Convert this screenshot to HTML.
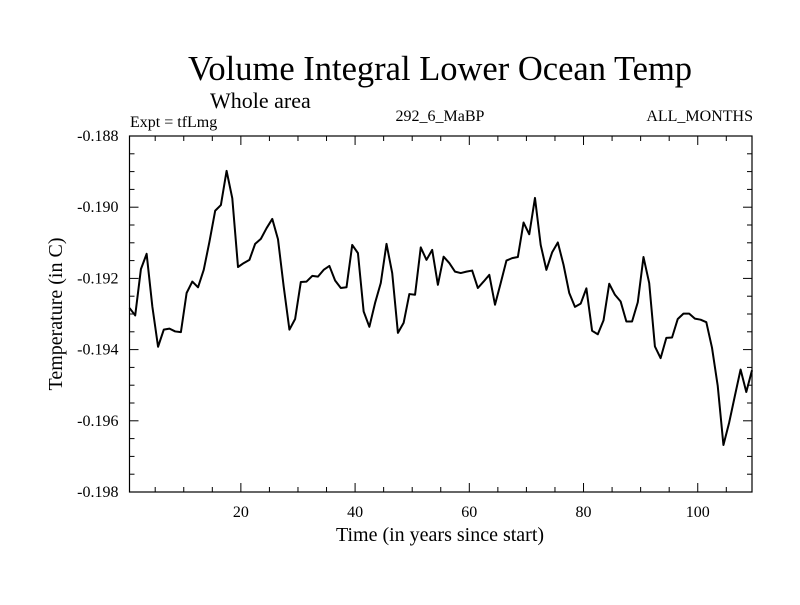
<!DOCTYPE html>
<html><head><meta charset="utf-8"><style>
body{margin:0;background:#fff;}
svg text{font-family:"Liberation Serif",serif;fill:#000;}
</style></head><body>
<svg id="chart" width="800" height="600" xmlns="http://www.w3.org/2000/svg">
<text x="440" y="80" font-size="34.5" text-anchor="middle">Volume Integral Lower Ocean Temp</text>
<text x="210" y="108" font-size="22">Whole area</text>
<text x="130" y="127" font-size="16">Expt = tfLmg</text>
<text x="440" y="121" font-size="16" text-anchor="middle">292_6_MaBP</text>
<text x="753" y="121" font-size="16" text-anchor="end">ALL_MONTHS</text>
<text x="440" y="541" font-size="20" text-anchor="middle">Time (in years since start)</text>
<text transform="translate(62,314) rotate(-90)" font-size="20" text-anchor="middle">Temperature (in C)</text>
<g id="axes"></g>
<path id="series" fill="none" stroke="#000" stroke-width="2" stroke-linejoin="round"/>
<rect x="129.5" y="136" width="622.5" height="356" fill="none" stroke="#000" stroke-width="1.2"/>
</svg>
<script>
const values = [-0.19283,-0.19304,-0.19174,-0.19131,-0.19279,-0.19392,-0.19344,-0.19341,-0.19349,-0.19351,
-0.19241,-0.19209,-0.19225,-0.19176,-0.19097,-0.19010,-0.18994,-0.18898,-0.18975,-0.19168,
-0.19157,-0.19148,-0.19103,-0.19089,-0.19059,-0.19033,-0.19090,-0.19223,-0.19344,-0.19314,
-0.19210,-0.19209,-0.19193,-0.19195,-0.19176,-0.19165,-0.19206,-0.19227,-0.19225,-0.19106,
-0.19129,-0.19293,-0.19336,-0.19269,-0.19213,-0.19103,-0.19185,-0.19353,-0.19325,-0.19244,
-0.19246,-0.19113,-0.19148,-0.19120,-0.19218,
-0.19139,-0.19157,-0.19181,-0.19185,-0.19181,-0.19178,-0.19227,-0.19209,-0.19190,-0.19274,
-0.19213,-0.19150,-0.19143,-0.19140,-0.19043,-0.19076,-0.18974,-0.19106,-0.19176,-0.19127,
-0.19099,-0.19162,-0.19241,-0.19280,-0.19271,-0.19228,-0.19347,-0.19357,-0.19318,-0.19215,
-0.19246,-0.19265,-0.19321,-0.19321,-0.19267,-0.19140,-0.19213,-0.19391,-0.19424,-0.19367,
-0.19366,-0.19314,-0.19299,-0.19299,-0.19313,-0.19316,-0.19323,-0.19395,-0.19502,-0.19668,
-0.19605,-0.19530,-0.19456,-0.19519,-0.19458];
const startYear = 0.5;
const xTickLabels = [20,40,60,80,100];
const yTickLabels = [-0.188,-0.190,-0.192,-0.194,-0.196,-0.198];
const X0=129.5,X1=752,Y0=136,Y1=492,XMIN=0.5,XMAX=109.5,YMAX=-0.188,YMIN=-0.198;
const xs=t=>X0+(t-XMIN)/(XMAX-XMIN)*(X1-X0);
const ys=v=>Y0+(YMAX-v)/(YMAX-YMIN)*(Y1-Y0);
const NS="http://www.w3.org/2000/svg";
const axes=document.getElementById('axes');
function line(x1,y1,x2,y2,name){const l=document.createElementNS(NS,'line');
l.setAttribute('x1',x1);l.setAttribute('y1',y1);l.setAttribute('x2',x2);l.setAttribute('y2',y2);
l.setAttribute('stroke','#000');l.setAttribute('stroke-width','1');


axes.appendChild(l);}
function text(x,y,s,anchor,size,name){const t=document.createElementNS(NS,'text');
t.setAttribute('x',x);t.setAttribute('y',y);t.setAttribute('text-anchor',anchor);t.setAttribute('font-size',size);t.textContent=s;


axes.appendChild(t);}
for(let t=5;t<XMAX;t+=5){const x=xs(t);const major=t%20===0;const L=major?9:5;
line(x,Y1,x,Y1-L,'x-tick');line(x,Y0,x,Y0+L,'x-tick-top');}
xTickLabels.forEach(t=>text(xs(t),Y1+25,String(t),'middle',16,'x-tick-label'));
for(let k=0;k<=20;k++){const v=YMAX-k*0.0005;const y=ys(v);const major=k%4===0;const L=major?9:5;
line(X0,y,X0+L,y,'y-tick');line(X1,y,X1-L,y,'y-tick-right');}
yTickLabels.forEach(v=>text(X0-11,ys(v)+5,v.toFixed(3),'end',16,'y-tick-label'));
let d='';values.forEach((v,i)=>{d+=(i?'L':'M')+xs(startYear+i).toFixed(2)+','+ys(v).toFixed(2);});
document.getElementById('series').setAttribute('d',d);
</script>
</body></html>
